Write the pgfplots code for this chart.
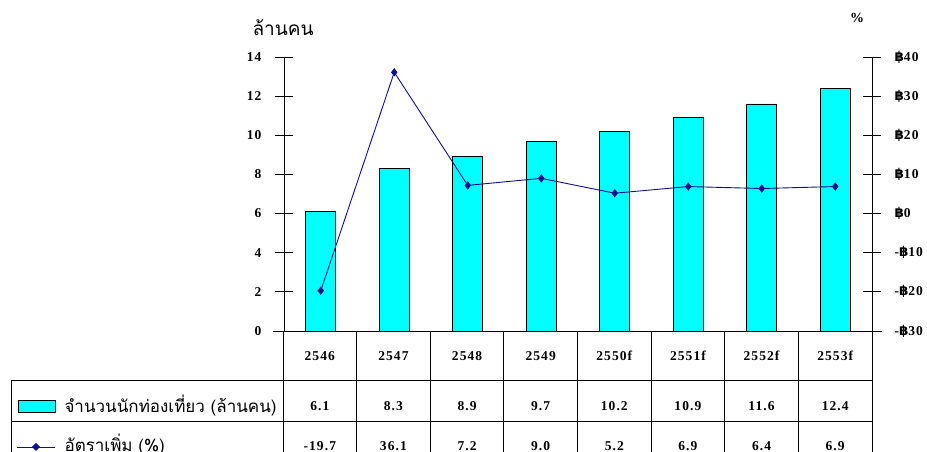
\documentclass[border=0pt]{standalone}
\usepackage{fontspec}
\usepackage{pgfplots}
\pgfplotsset{compat=1.18}
\setmainfont{Liberation Serif}
\newfontfamily\thaifont[Script=Thai]{Loma}
\newfontfamily\numfont[LetterSpace=8]{Liberation Serif}
\newfontfamily\bahtfont{DejaVu Sans}
\newcommand\bt{{\bahtfont\bfseries ฿}}
\newcommand\numsize{\fontsize{13.5}{15}\selectfont}
\definecolor{barcyan}{RGB}{0,255,255}
\definecolor{navyline}{RGB}{16,16,140}
\begin{document}
\begin{tikzpicture}[x=1pt,y=1pt]
\useasboundingbox (0,0) rectangle (927,452);
\clip (0,0) rectangle (927,452);
\begin{axis}[
  at={(284pt,121pt)}, anchor=south west,
  scale only axis, width=588pt, height=274pt,
  xmin=-0.5, xmax=7.5, ymin=0, ymax=14,
  axis y line*=left, hide x axis,
  ytick={0,2,...,14},
  tick align=center, major tick length=18pt,
  tick style={black, line width=0.8pt},
  axis line style={black, line width=0.8pt},
  /pgf/number format/assume math mode=true,
  yticklabel style={font=\numfont\bfseries\numsize, xshift=-10pt},
  clip=false,
]
\addplot[ybar, bar width=30pt, fill=barcyan, draw=black, line width=0.8pt]
  coordinates {(0,6.1) (1,8.3) (2,8.9) (3,9.7) (4,10.2) (5,10.9) (6,11.6) (7,12.4)};
\end{axis}
\begin{axis}[
  at={(284pt,121pt)}, anchor=south west,
  scale only axis, width=588pt, height=274pt,
  xmin=-0.5, xmax=7.5, ymin=-30, ymax=40,
  axis y line*=right, hide x axis,
  ytick={-30,-20,...,40},
  yticklabels={{-\bt30},{-\bt20},{-\bt10},{\bt0},{\bt10},{\bt20},{\bt30},{\bt40}},
  tick align=center, major tick length=18pt,
  tick style={black, line width=0.8pt},
  axis line style={black, line width=0.8pt},
  yticklabel style={font=\numfont\bfseries\numsize, xshift=10pt},
  clip=false,
]
\addplot[navyline, line width=0.9pt, mark=diamond*, mark size=3.5pt, mark options={fill=navyline}]
  coordinates {(0,-19.7) (1,36.1) (2,7.2) (3,9.0) (4,5.2) (5,6.9) (6,6.4) (7,6.9)};
\end{axis}
% axis titles
\node[font=\thaifont\fontsize{19}{21}\selectfont] at (283,424) {ล้านคน};
\node[font=\bfseries\fontsize{14}{16}\selectfont] at (857,434) {\%};
% table
\begin{scope}[line width=0.8pt]
\draw (273,121) -- (882,121);
\foreach \i in {0,...,8} { \draw (283+73.625*\i,121) -- (283+73.625*\i,-5); }
\draw (11,72) -- (872,72);
\draw (11,31) -- (872,31);
\draw (11,72) -- (11,-5);
\end{scope}
\foreach \lab [count=\i from 0] in {2546,2547,2548,2549,2550f,2551f,2552f,2553f}
  { \node[font=\numfont\bfseries\numsize] at (283+73.625*\i+36.8,96) {\lab}; }
\foreach \lab [count=\i from 0] in {6.1,8.3,8.9,9.7,10.2,10.9,11.6,12.4}
  { \node[font=\numfont\bfseries\numsize] at (283+73.625*\i+36.8,46) {\lab}; }
\foreach \lab [count=\i from 0] in {-19.7,36.1,7.2,9.0,5.2,6.9,6.4,6.9}
  { \node[font=\numfont\bfseries\numsize] at (283+73.625*\i+36.8,6) {\lab}; }
% legend keys
\draw[fill=barcyan, line width=0.8pt] (18,40) rectangle (55,52);
\node[anchor=west, font=\thaifont\fontsize{17}{19}\selectfont] at (61,46) {จำนวนนักท่องเที่ยว (ล้านคน)};
\draw[navyline, line width=0.9pt] (17,5) -- (55,5);
\fill[navyline] (36,9) -- (40,5) -- (36,1) -- (32,5) -- cycle;
\node[anchor=west, font=\thaifont\fontsize{17}{19}\selectfont] at (61,7) {อัตราเพิ่ม (\%)};
\end{tikzpicture}
\end{document}
